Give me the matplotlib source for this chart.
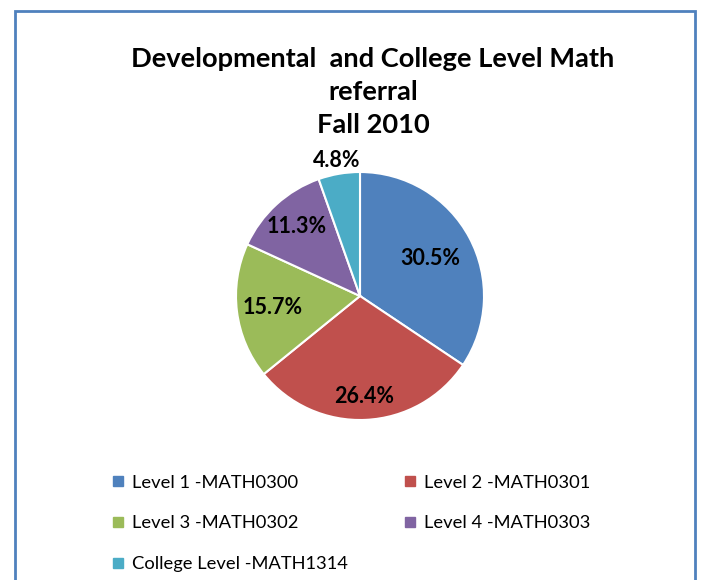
import matplotlib
matplotlib.use('Agg')
import matplotlib.pyplot as plt
from matplotlib.patches import Rectangle
from matplotlib.lines import Line2D
import numpy as np

# data (values as labelled, they do not add up to 100)
categories = ['Level 1 -MATH0300', 'Level 2 -MATH0301', 'Level 3 -MATH0302',
              'Level 4 -MATH0303', 'College Level -MATH1314']
shares = [30.5, 26.4, 15.7, 11.3, 4.8]
colors = ['#4F81BD', '#C0504D', '#9BBB59', '#8064A2', '#4BACC6']
# radial position of each label, fraction of radius (Excel "best fit")
label_dist = [0.64, 0.81, 0.71, 0.76, 1.11]

plt.rcParams['font.family'] = ['Lato', 'DejaVu Sans']

W, H = 704, 580
fig = plt.figure(figsize=(W / 100, H / 100), dpi=100)

# blue frame around the chart area
fig.patches.append(Rectangle((15 / W, -0.05), 680 / W, 1.05 - 11 / H,
                             transform=fig.transFigure, fill=False,
                             edgecolor='#4F81BD', linewidth=2))

fig.text(373 / W, 1 - 92 / H, 'Developmental  and College Level Math\nreferral\nFall 2010',
         ha='center', va='center', fontsize=19.6, fontweight='bold',
         linespacing=1.46)

cx, cy, r = 360, 296, 124
ax = fig.add_axes([(cx - r) / W, (H - cy - r) / H, 2 * r / W, 2 * r / H])
wedges, _ = ax.pie(shares, colors=colors, startangle=90, counterclock=False,
                   radius=1, wedgeprops=dict(edgecolor='white', linewidth=1.5))
ax.set_xlim(-1, 1)
ax.set_ylim(-1, 1)
ax.set_aspect('equal')
ax.axis('off')

for w, v, d in zip(wedges, shares, label_dist):
    mid = np.deg2rad((w.theta1 + w.theta2) / 2)
    ax.text(d * np.cos(mid), d * np.sin(mid), '%.1f%%' % v, ha='center',
            va='center', fontsize=15.5, fontweight='bold', clip_on=False)

handles = [Line2D([], [], marker='s', linestyle='none', markersize=7,
                  markerfacecolor=c, markeredgecolor=c) for c in colors]
order = [0, 2, 4, 1, 3]
fig.legend([handles[i] for i in order], [categories[i] for i in order],
           ncol=2, loc='upper left', bbox_to_anchor=(94 / W, 1 - 458 / H),
           frameon=False, fontsize=13.2, handlelength=0.8, handletextpad=0.35,
           columnspacing=3.0, labelspacing=1.35)

fig.savefig('out.png', dpi=100)
